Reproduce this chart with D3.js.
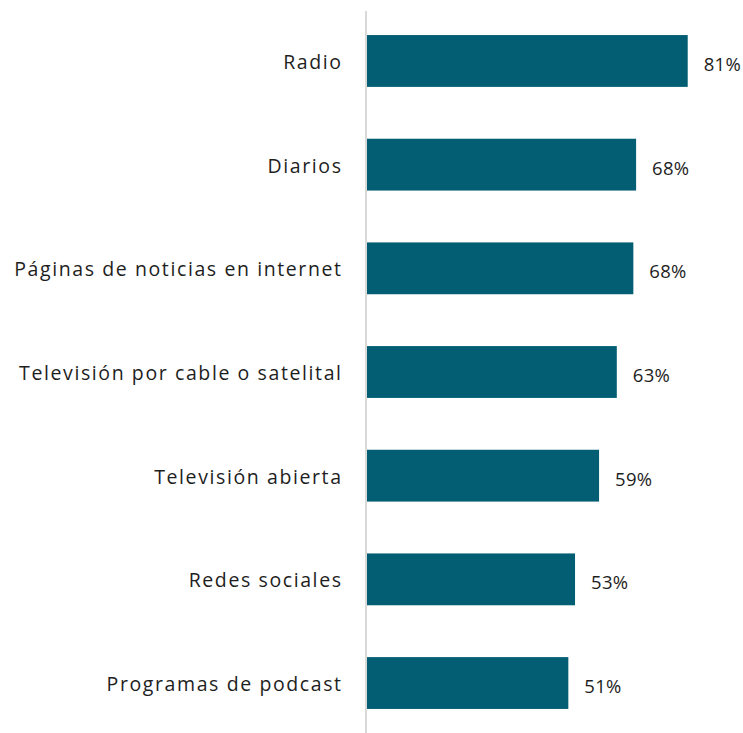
<!DOCTYPE html>
<html><head><meta charset="utf-8">
<script src="https://cdn.jsdelivr.net/npm/d3@7"></script>
<style>body{margin:0;background:#fff;}svg{display:block;}</style>
</head><body>
<script>
const categories = ["Radio","Diarios","Páginas de noticias en internet","Televisión por cable o satelital","Televisión abierta","Redes sociales","Programas de podcast"];
const values = [81.4, 68.3, 67.6, 63.4, 58.9, 52.8, 51.1];

const W = 743, H = 733;
const svg = d3.select("body").append("svg").attr("width", W).attr("height", H);
const x0 = 367;
const x = d3.scaleLinear().domain([0, 100]).range([x0, x0 + 394]);
const y = d3.scaleBand().domain(categories).range([11, 733]).paddingInner(0.5).paddingOuter(0.232);

const font = "'Open Sans', sans-serif";
const ls = 1.6;

svg.selectAll("rect.bar").data(categories).join("rect")
  .attr("class","bar")
  .attr("x", x(0))
  .attr("y", d => y(d))
  .attr("width", (d,i) => x(values[i]) - x(0))
  .attr("height", y.bandwidth())
  .attr("fill", "#035e73");

svg.append("line").attr("x1", 366).attr("x2", 366).attr("y1", 11).attr("y2", 733)
  .attr("stroke", "#d9d9d9").attr("stroke-width", 2);

svg.selectAll("text.cat").data(categories).join("text")
  .attr("class","cat")
  .attr("x", 341 + ls)
  .attr("y", d => y(d) + y.bandwidth()/2 + 8)
  .attr("text-anchor", "end")
  .attr("font-family", font).attr("font-size", 19.5).attr("letter-spacing", ls + "px").attr("fill", "#1e1e1e")
  .text(d => d);

svg.selectAll("text.val").data(categories).join("text")
  .attr("class","val")
  .attr("x", (d,i) => x(values[i]) + 16)
  .attr("y", d => y(d) + y.bandwidth()/2 + 10)
  .attr("font-family", font).attr("font-size", 18.5).attr("letter-spacing", "0.3px").attr("fill", "#1e1e1e")
  .text((d,i) => Math.round(values[i]) + "%");
</script>
</body></html>
